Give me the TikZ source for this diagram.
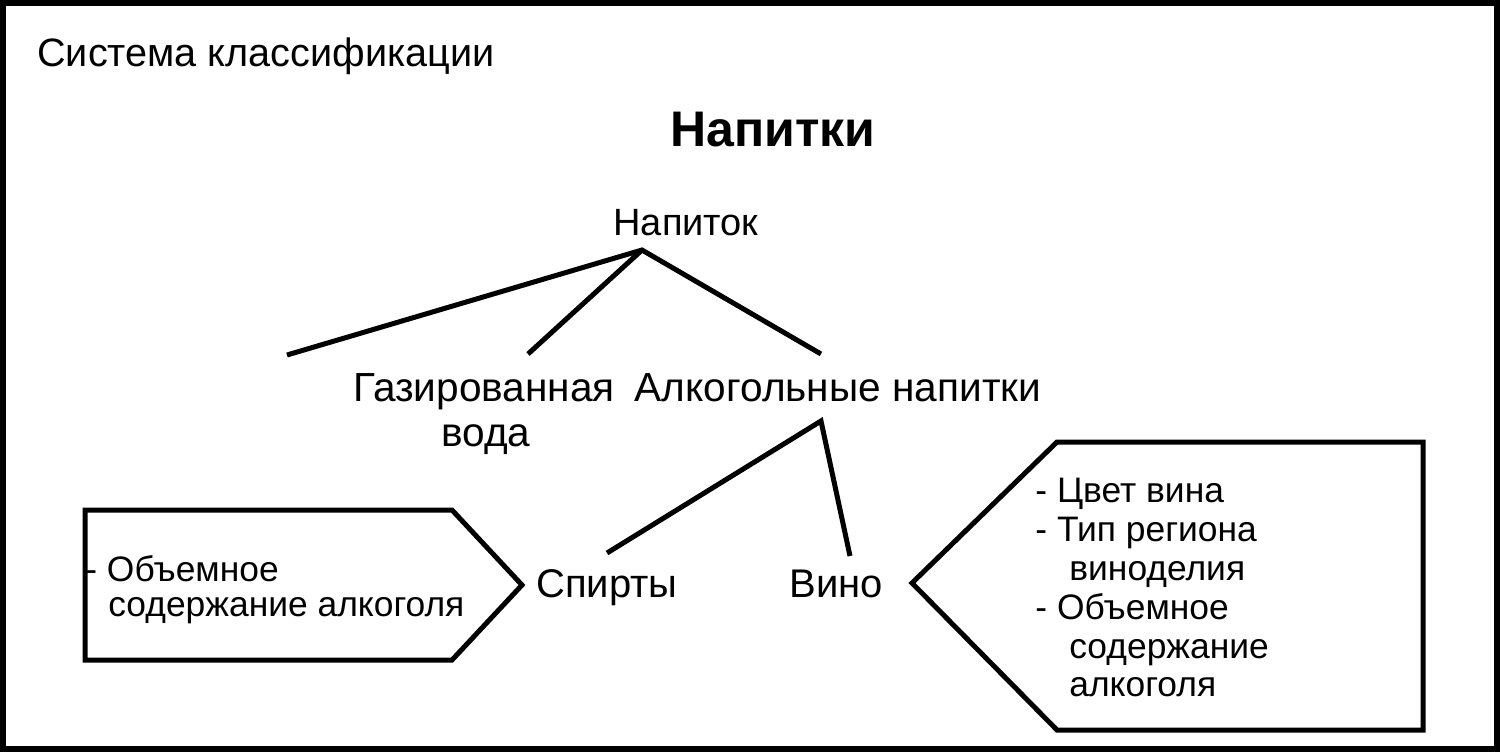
\documentclass[tikz,border=0pt]{standalone}
\usepackage{fontspec}
\setmainfont{Liberation Sans}
\begin{document}
\begin{tikzpicture}[x=0.5pt,y=-0.5pt,line join=miter,
  ttl/.style={font=\fontsize{19.8}{23}\selectfont,inner sep=0pt},
  txt/.style={font=\fontsize{19}{22}\selectfont,inner sep=0pt},
  mid/.style={font=\fontsize{20.3}{24}\selectfont,inner sep=0pt},
  big/.style={font=\fontsize{20}{24}\selectfont,inner sep=0pt},
  box/.style={font=\fontsize{17.7}{21}\selectfont,inner sep=0pt},
  head/.style={font=\fontsize{25}{30}\selectfont\bfseries,inner sep=0pt},
  edge/.style={line width=2.5pt},
  frame/.style={line width=3pt}]
\useasboundingbox (0,0) rectangle (1500,752);
\draw[frame] (3,3) rectangle (1497,749);
% titles
\node[ttl,anchor=base west] (title) at (37,66) {Система классификации};
\node[head,anchor=base] (head) at (773,146) {Напитки};
% tree
\node[txt,anchor=base] (root) at (686,235) {Напиток};
\coordinate (apex) at (642,250);
\coordinate (e1) at (287,355);
\coordinate (e2) at (528,354);
\coordinate (e3) at (821,354);
\draw[edge] (e1) -- (apex) -- (e3);
\draw[edge] (apex) -- (e2);
\node[mid,anchor=base] (soda1) at (484,401) {Газированная};
\node[mid,anchor=base] (soda2) at (486,446) {вода};
\node[mid,anchor=base] (alc) at (838,401) {Алкогольные напитки};
\coordinate (apex2) at (821,421);
\coordinate (f1) at (607,553);
\coordinate (f2) at (850,556);
\draw[edge] (f1) -- (apex2) -- (f2);
\node[big,anchor=base] (spirits) at (607,597) {Спирты};
\node[big,anchor=base] (wine) at (836,597) {Вино};
% left box
\draw[edge] (85,510) -- (452,510) -- (522,585) -- (452,660) -- (85,660) -- cycle;
\node[box,anchor=base west] (l1) at (85,581) {- Объемное};
\node[box,anchor=base west] (l2) at (108,616) {содержание алкоголя};
% right box
\draw[edge] (1057,442) -- (1423,442) -- (1423,730) -- (1057,730) -- (912,583) -- cycle;
\node[box,anchor=base west] (r1) at (1035,502) {- Цвет вина};
\node[box,anchor=base west] (r2) at (1035,541) {- Тип региона};
\node[box,anchor=base west] (r3) at (1069,580) {виноделия};
\node[box,anchor=base west] (r4) at (1035,619) {- Объемное};
\node[box,anchor=base west] (r5) at (1069,658) {содержание};
\node[box,anchor=base west] (r6) at (1069,696) {алкоголя};
\end{tikzpicture}
\end{document}
